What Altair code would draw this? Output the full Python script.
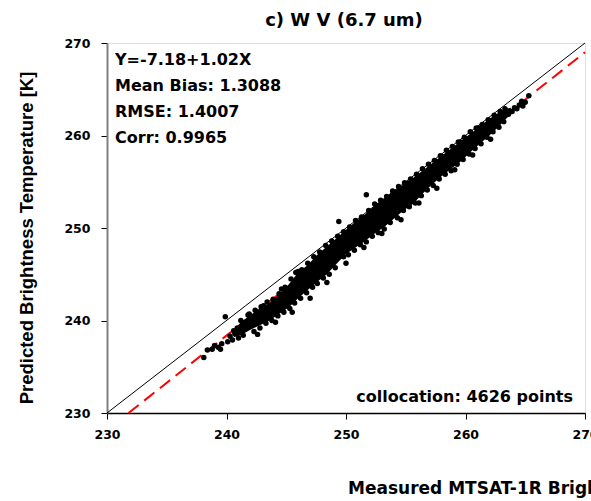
import altair as alt
import pandas as pd

# ---- data ----
pt_x = [238.1, 238.4, 238.8, 239.0, 239.3, 239.5, 239.6, 239.9, 240.1, 240.3, 240.5, 240.7, 240.9, 241.0, 240.6, 241.4, 241.6, 241.2,
        241.9, 242.4, 242.9, 243.4, 243.9, 244.4, 244.9, 245.4, 245.8, 246.3, 246.8, 247.3, 247.8, 248.3, 248.8, 249.3, 249.4, 249.8,
        250.3, 250.8, 251.3, 251.7, 251.9, 252.4, 252.9, 253.4, 253.9, 254.4, 254.9, 255.4, 255.9, 256.4, 256.9, 257.4, 257.9, 258.4,
        258.9, 259.4, 259.9, 260.4, 260.9, 261.4, 261.9, 262.4, 262.9, 263.3,
        242.3, 242.8, 243.3, 243.8, 244.3, 244.8, 245.3, 245.7, 246.2, 246.7, 247.2, 247.6, 248.1, 248.6, 249.1, 249.8, 250.2, 250.7,
        251.2, 251.7, 252.2, 252.7, 253.2, 253.7, 254.3, 254.8, 255.3, 255.8, 256.3, 256.8, 257.3, 257.8, 258.3, 258.8, 259.3, 259.8,
        260.3, 260.8, 261.3, 261.8, 262.3, 262.8, 263.2,
        263.6, 263.9, 264.1, 264.3, 264.5, 264.7, 264.8, 265.0, 265.3,
        241.8, 243.1, 244.6, 246.0, 247.5, 248.9, 250.5, 252.0, 253.5, 255.1, 256.6, 258.1, 259.6, 261.1, 262.6,
        242.6, 244.1, 245.5, 247.0, 248.4, 250.0, 251.5, 253.0, 254.6, 256.1, 257.6, 259.1, 260.6, 262.1]
pt_y = [236.0, 236.8, 236.9, 237.3, 237.1, 236.9, 237.5, 240.4, 237.7, 238.3, 237.9, 238.6, 239.2, 238.1, 238.9, 238.4, 239.8, 240.0,
        240.7, 241.1, 241.5, 242.0, 242.3, 242.9, 243.6, 244.5, 245.2, 245.5, 246.2, 246.9, 247.4, 248.1, 248.6, 249.1, 250.7, 249.6,
        250.1, 250.8, 251.2, 253.6, 251.9, 252.6, 253.0, 253.4, 254.0, 254.5, 254.9, 255.3, 255.8, 256.4, 256.9, 257.3, 257.8, 258.4,
        258.8, 259.3, 259.8, 260.4, 260.8, 261.2, 261.7, 262.2, 262.6, 262.9,
        238.8, 239.2, 239.7, 240.0, 240.5, 240.9, 241.3, 241.9, 242.4, 243.0, 243.6, 244.0, 244.6, 245.0, 245.7, 246.9, 247.1, 247.6,
        248.2, 248.5, 249.1, 249.5, 249.9, 250.6, 251.1, 251.9, 252.3, 252.7, 253.5, 254.1, 254.6, 255.3, 255.8, 256.2, 256.9, 257.4,
        258.0, 258.6, 259.1, 259.8, 260.4, 260.9, 261.5,
        262.3, 262.6, 263.0, 262.9, 263.3, 263.7, 263.2, 263.6, 264.3,
        240.6, 241.6, 243.4, 245.3, 246.7, 248.4, 249.9, 251.6, 253.0, 254.8, 256.0, 257.7, 259.3, 260.8, 262.0,
        238.5, 239.8, 240.9, 242.4, 244.1, 246.2, 247.9, 249.4, 250.9, 252.7, 254.3, 256.3, 257.9, 259.6]

# envelope of the dense core of the cloud
band_x = [240.6, 241.2, 242.0, 242.8, 243.6, 244.4, 245.2, 246.0, 246.8, 247.6, 248.4, 249.2, 250.0, 250.8, 251.6, 252.4,
          253.2, 254.0, 254.8, 255.6, 256.4, 257.2, 258.0, 258.8, 259.6, 260.4, 261.2, 262.0, 262.8, 263.4, 263.8]
band_lo = [238.2, 238.4, 239.0, 239.5, 240.0, 240.7, 241.4, 242.4, 243.3, 244.2, 245.0, 246.1, 247.2, 247.9, 248.6, 249.4,
           250.1, 251.0, 251.9, 252.6, 253.7, 254.7, 255.6, 256.4, 257.2, 258.2, 259.1, 260.0, 261.0, 261.8, 262.3]
band_hi = [238.9, 239.8, 240.6, 241.3, 241.9, 242.8, 243.9, 245.2, 246.0, 247.1, 248.0, 248.9, 249.8, 250.7, 251.5, 252.4,
           253.2, 254.0, 254.7, 255.4, 256.2, 257.0, 257.8, 258.6, 259.4, 260.2, 261.0, 261.8, 262.5, 262.9, 263.0]

diag_x = [230, 270]
diag_y = [230, 270]
fit_x = [231.8, 270]
fit_y = [230, 269.0]

ticks = [230, 240, 250, 260, 270]

title_text = "c) W V (6.7 um)"
stats_text = ["Y=-7.18+1.02X", "Mean Bias:  1.3088", "RMSE: 1.4007", "Corr: 0.9965"]
count_text = "collocation: 4626 points"
x_title = "Measured MTSAT-1R Brightness Temperature [K]"
y_title = "Predicted Brightness Temperature [K]"

W, H = 478, 370
FONT = "DejaVu Sans"

xs = alt.Scale(domain=[230, 270], nice=False, zero=False)
ys = alt.Scale(domain=[230, 270], nice=False, zero=False)

x_axis = alt.Axis(values=ticks, grid=False, title=None, labelFlush=False, domainColor="black", domainWidth=1.5,
                  tickColor="black", tickSize=6, labelPadding=9, labelFont=FONT, labelFontSize=12.5,
                  labelFontWeight="bold", labelColor="black")
y_axis = alt.Axis(values=ticks, grid=False, title=None, domainColor="#808080", domainWidth=2,
                  tickColor="black", tickSize=6, labelPadding=11, labelFont=FONT, labelFontSize=12.5,
                  labelFontWeight="bold", labelColor="black")

lines_df = pd.DataFrame({"x": diag_x, "y": diag_y})
fit_df = pd.DataFrame({"x": fit_x, "y": fit_y})
band_df = pd.DataFrame({"x": band_x, "lo": band_lo, "hi": band_hi})
pts_df = pd.DataFrame({"x": pt_x, "y": pt_y})

diag = alt.Chart(lines_df).mark_line(color="black", strokeWidth=1).encode(
    x=alt.X("x:Q", scale=xs, axis=x_axis), y=alt.Y("y:Q", scale=ys, axis=y_axis))
fit = alt.Chart(fit_df).mark_line(color="#ff0000", strokeWidth=2, strokeDash=[13, 7]).encode(
    x=alt.X("x:Q", scale=xs), y=alt.Y("y:Q", scale=ys))
band = alt.Chart(band_df).mark_area(color="black", opacity=1).encode(
    x=alt.X("x:Q", scale=xs), y=alt.Y("hi:Q", scale=ys), y2="lo:Q")
pts = alt.Chart(pts_df).mark_circle(color="black", opacity=1, size=30).encode(
    x=alt.X("x:Q", scale=xs), y=alt.Y("y:Q", scale=ys))


def label(text, x, y, size=15, align="left", baseline="middle", font=FONT, angle=0):
    return alt.Chart(pd.DataFrame({"t": [text]})).mark_text(
        font=font, fontSize=size, fontWeight="bold", align=align, baseline=baseline, angle=angle,
        color="black").encode(x=alt.value(x), y=alt.value(y), text="t:N")


title = label(title_text, 237, -17, size=18, align="center", baseline="alphabetic")
stats = [label(t, 8, yy, size=16) for t, yy in zip(stats_text, [16.5, 43, 69, 95])]
count = label(count_text, 466, 359, size=16, align="right", baseline="alphabetic")
xt = label(x_title, 241, 451, size=17, baseline="alphabetic")
yt = label(y_title, -80, 195, size=18.5, align="center", font="Liberation Sans", angle=270)

chart = alt.layer(diag, fit, band, pts, title, *stats, count, xt, yt).properties(
    width=W, height=H,
    autosize=alt.AutoSizeParams(type="none"),
    padding={"left": 107, "top": 43, "right": 6, "bottom": 88},
).configure_view(stroke="black", strokeWidth=1).configure(background="white")

chart.save("out.html", embed_options={"renderer": "svg", "actions": False})
